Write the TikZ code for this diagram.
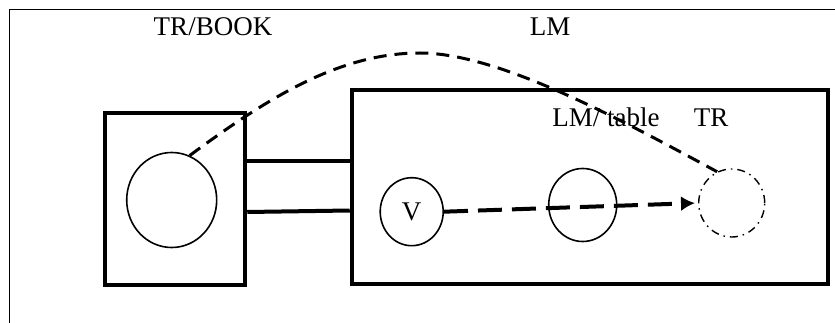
\documentclass[tikz,border=0pt]{standalone}
\usepackage{fontspec}
\setmainfont{Liberation Serif}
\usetikzlibrary{shapes.geometric,arrows.meta}
\begin{document}
\begin{tikzpicture}[x=1pt,y=-1pt,
  frame/.style={line width=1.5pt},
  boxthick/.style={draw,line width=4.5pt,inner sep=0pt,rectangle},
  circ/.style={draw,ellipse,line width=1.6pt,inner sep=0pt},
  link/.style={line width=4pt},
  curvedash/.style={line width=3pt,dash pattern=on 13pt off 8pt},
  arrowdash/.style={line width=4pt,dash pattern=on 24pt off 10pt,-{Latex[length=14pt,width=15pt]},shorten >=3pt},
  dashdotcirc/.style={draw,ellipse,line width=1.4pt,inner sep=0pt,dash pattern=on 8pt off 5pt on 1.5pt off 5pt},
  lab/.style={font=\fontsize{27}{30}\selectfont,inner sep=0pt,anchor=base}
]
\useasboundingbox (0,0) rectangle (835,323);
\fill[white] (0,0) rectangle (835,323);
% outer frame (cut at right and bottom)
\draw[frame] (840,9.5) -- (9.5,9.5) -- (9.5,330);
% boxes
\node[boxthick,minimum width=140pt,minimum height=172pt] (lb) at (175,199) {};
\node[boxthick,minimum width=476pt,minimum height=194pt] (bb) at (590,187) {};
% circles
\node[circ,minimum width=90pt,minimum height=95pt] (lc) at (171.7,200) {};
\node[circ,minimum width=63pt,minimum height=68pt,font=\fontsize{27}{30}\selectfont] (vc) at (411.7,211.7) {V};
\node[circ,minimum width=68pt,minimum height=73pt] (mc) at (582.7,205) {};
\node[dashdotcirc,minimum width=66pt,minimum height=68pt] (dc) at (731.7,203) {};
% links between boxes
\coordinate (u1) at (0,161.5);
\coordinate (u2) at (0,212);
\draw[link] (lb.east |- u1) -- (bb.west |- u1);
\draw[link] (lb.east |- u2) -- ([yshift=1.5pt]bb.west |- u2);
% labels
\node[lab] (tb) at (213,35.5) {TR/BOOK};
\node[lab] (lm) at (550,35.5) {LM};
\node[lab] (lmt) at (606,127) {LM/ table};
\node[lab] (tr) at (711,127) {TR};
% curve
\coordinate (peak) at (420,53);
\draw[curvedash] (lc.68) .. controls (269,97) and (340,53) .. (peak) .. controls (500,53) and (625,122) .. (dc.115);
% arrow
\draw[arrowdash] (vc.east) -- (dc.west);
\end{tikzpicture}
\end{document}
